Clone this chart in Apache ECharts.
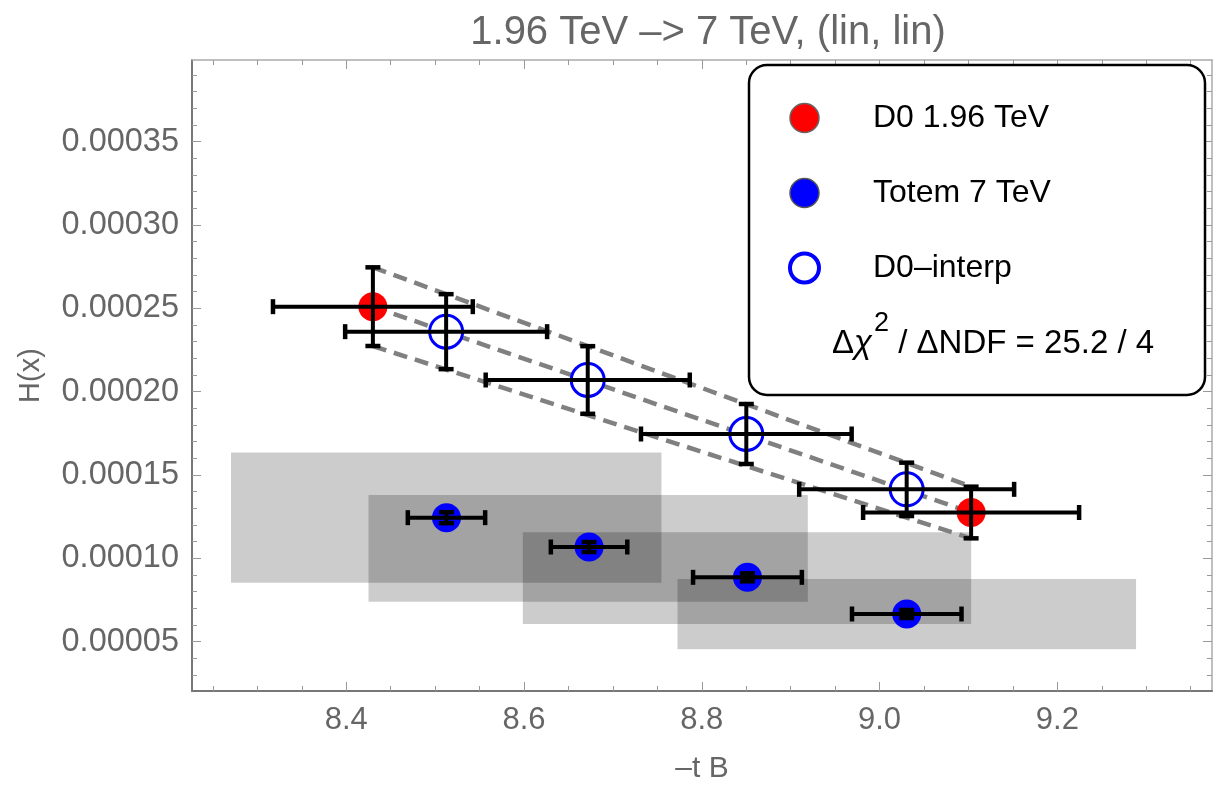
<!DOCTYPE html>
<html><head><meta charset="utf-8">
<script src="https://cdn.jsdelivr.net/npm/echarts@6/dist/echarts.min.js"></script>
<style>html,body{margin:0;padding:0;background:#fff}#c{width:1230px;height:786px}</style>
</head><body><div id="c"></div>
<script>
// ---- axis ticks ----
const xMajorTicks = [8.4, 8.6, 8.8, 9.0, 9.2];
const xMinorTicks = [8.25, 8.3, 8.35, 8.45, 8.5, 8.55, 8.65, 8.7, 8.75, 8.85, 8.9, 8.95, 9.05, 9.1, 9.15, 9.25, 9.3, 9.35];
const yMajorTicks = [0.00005, 0.0001, 0.00015, 0.0002, 0.00025, 0.0003, 0.00035];
const yMinorTicks = [0.00003, 0.00004, 0.00006, 0.00007, 0.00008, 0.00009, 0.00011, 0.00012, 0.00013, 0.00014,
  0.00016, 0.00017, 0.00018, 0.00019, 0.00021, 0.00022, 0.00023, 0.00024, 0.00026, 0.00027, 0.00028, 0.00029,
  0.00031, 0.00032, 0.00033, 0.00034, 0.00036, 0.00037, 0.00038, 0.00039];

// ---- D0 1.96 TeV ----
const d0X = [8.430, 9.103];
const d0Y = [0.000251, 0.0001275];
const d0XErr = [0.1124, 0.1215];
const d0YErr = [0.0000236, 0.0000155];

// ---- D0-interp ----
const interpX = [8.5124, 8.6717, 8.8501, 9.0305];
const interpY = [0.000236, 0.000207, 0.0001746, 0.0001414];
const interpXErr = [0.1136, 0.1148, 0.1185, 0.1209];
const interpYErr = [0.0000225, 0.0000203, 0.000018, 0.000016];

// ---- Totem 7 TeV ----
const totemX = [8.5128, 8.6732, 8.8514, 9.0306];
const totemY = [0.0001244, 0.0001068, 0.0000886, 0.0000666];
const totemXErr = [0.0435, 0.0430, 0.0612, 0.0616];
const totemYErr = [0.0000033, 0.000003, 0.0000024, 0.0000024];

// ---- Totem uncertainty boxes ----
const boxXLo = [8.2704, 8.4251, 8.5987, 8.7727];
const boxXHi = [8.7546, 8.9193, 9.1031, 9.2886];
const boxYLo = [0.0000854, 0.0000740, 0.0000606, 0.0000454];
const boxYHi = [0.0001635, 0.0001380, 0.0001156, 0.0000876];

const xMin = 8.2265, xMax = 9.374, yMin = 0.0000204, yMax = 0.000399;
const F = '"Liberation Sans", Arial, sans-serif';

const chart = echarts.init(document.getElementById('c'));

function errRender(params, api) {
  const x = api.value(0), y = api.value(1), ex = api.value(2), ey = api.value(3);
  const c = api.coord([x, y]);
  const l = api.coord([x - ex, y]), r = api.coord([x + ex, y]);
  const t = api.coord([x, y + ey]), b = api.coord([x, y - ey]);
  const cap = 7.5;
  const st = {stroke: '#000', lineWidth: 4};
  const cs = {stroke: '#000', lineWidth: 4.5};
  return {type: 'group', children: [
    {type: 'line', shape: {x1: l[0], y1: c[1], x2: r[0], y2: c[1]}, style: st},
    {type: 'line', shape: {x1: l[0], y1: c[1] - cap, x2: l[0], y2: c[1] + cap}, style: cs},
    {type: 'line', shape: {x1: r[0], y1: c[1] - cap, x2: r[0], y2: c[1] + cap}, style: cs},
    {type: 'line', shape: {x1: c[0], y1: t[1], x2: c[0], y2: b[1]}, style: st},
    {type: 'line', shape: {x1: c[0] - cap, y1: t[1], x2: c[0] + cap, y2: t[1]}, style: cs},
    {type: 'line', shape: {x1: c[0] - cap, y1: b[1], x2: c[0] + cap, y2: b[1]}, style: cs}
  ]};
}
function boxRender(params, api) {
  const p1 = api.coord([api.value(0), api.value(3)]);
  const p2 = api.coord([api.value(1), api.value(2)]);
  return {type: 'rect', shape: {x: p1[0], y: p1[1], width: p2[0] - p1[0], height: p2[1] - p1[1]},
    style: {fill: 'rgba(0,0,0,0.2)'}};
}

const zip4 = (a, b, c, d) => a.map((v, i) => [v, b[i], c[i], d[i]]);

function xAx(pos, ticks, major, extra) {
  return Object.assign({
    type: 'value', min: xMin, max: xMax, position: pos, gridIndex: 0,
    axisLine: {show: major, onZero: false, lineStyle: {color: pos === 'bottom' ? '#777' : '#aaa', width: pos === 'bottom' ? 2 : 1.5}},
    axisTick: {show: true, customValues: ticks, inside: true, length: major ? 9 : 5, lineStyle: {color: '#999', width: 1}},
    axisLabel: {show: false}, splitLine: {show: false}
  }, extra || {});
}
function yAx(pos, ticks, major, extra) {
  return Object.assign({
    type: 'value', min: yMin, max: yMax, position: pos, gridIndex: 0,
    axisLine: {show: major, onZero: false, lineStyle: {color: pos === 'left' ? '#777' : '#aaa', width: pos === 'left' ? 2 : 1.5}},
    axisTick: {show: true, customValues: ticks, inside: true, length: major ? 9 : 5, lineStyle: {color: '#999', width: 1}},
    axisLabel: {show: false}, splitLine: {show: false}
  }, extra || {});
}

const option = {
  backgroundColor: '#fff',
  animation: false,
  title: {text: '1.96 TeV –> 7 TeV, (lin, lin)', left: 703, textAlign: 'center', top: 8,
    textStyle: {fontSize: 40, fontWeight: 'normal', color: '#666', fontFamily: F}},
  grid: {left: 192, right: 18, top: 60, bottom: 95, outerBoundsMode: 'none', containLabel: false},
  xAxis: [
    xAx('bottom', xMajorTicks, true, {
      axisLabel: {show: true, customValues: xMajorTicks, formatter: v => v.toFixed(1), fontSize: 31, color: '#666', fontFamily: F, margin: 14},
      name: '–t B', nameLocation: 'middle', nameGap: 63, nameTextStyle: {fontSize: 30, color: '#666', fontFamily: F}
    }),
    xAx('bottom', xMinorTicks, false),
    xAx('top', xMajorTicks, true),
    xAx('top', xMinorTicks, false)
  ],
  yAxis: [
    yAx('left', yMajorTicks, true, {
      axisLabel: {show: true, customValues: yMajorTicks, formatter: v => v.toFixed(5), fontSize: 32.5, color: '#666', fontFamily: F, margin: 13},
      name: 'H(x)', nameLocation: 'middle', nameGap: 147, nameRotate: 90, nameTextStyle: {fontSize: 29, color: '#666', fontFamily: F}
    }),
    yAx('left', yMinorTicks, false),
    yAx('right', yMajorTicks, true),
    yAx('right', yMinorTicks, false)
  ],
  legend: {
    orient: 'vertical', left: 783, top: 95, itemWidth: 29, itemHeight: 29, itemGap: 39, z: 20,
    selectedMode: false,
    textStyle: {fontSize: 32, color: '#000', fontFamily: F, lineHeight: 36, padding: [0, 0, 0, 49]},
    data: [
      {name: 'D0 1.96 TeV', itemStyle: {color: '#ff0000', borderColor: '#666', borderWidth: 1.5}},
      {name: 'Totem 7 TeV', itemStyle: {color: '#0000ff', borderColor: '#555', borderWidth: 1.5}},
      {name: 'D0–interp', itemStyle: {color: '#fff', borderColor: '#0000ff', borderWidth: 4}}
    ]
  },
  graphic: [
    {type: 'rect', z: 15, shape: {x: 749, y: 65, width: 456, height: 330, r: 18},
      style: {fill: '#fff', stroke: '#000', lineWidth: 2.5}},
    {type: 'text', z: 30, left: 832, top: 310,
      style: {text: '{d|Δ}{c|χ}{s|2}{d| / ΔNDF = 25.2 / 4}',
        rich: {
          d: {fontSize: 33, fontFamily: F, fill: '#000', lineHeight: 50, verticalAlign: 'bottom'},
          c: {fontSize: 33, fontFamily: F, fontStyle: 'italic', fill: '#000', lineHeight: 50, verticalAlign: 'bottom'},
          s: {fontSize: 27, fontFamily: F, fill: '#000', lineHeight: 27, verticalAlign: 'top', padding: [0, 0, 0, 2]}
        }}}
  ],
  series: [
    {type: 'custom', name: 'boxes', renderItem: boxRender, z: 1, silent: true,
      encode: {x: [0, 1], y: [2, 3]},
      data: zip4(boxXLo, boxXHi, boxYLo, boxYHi)},
    {type: 'line', name: 'bandUp', symbol: 'none', z: 2, silent: true,
      lineStyle: {color: '#808080', width: 4.5, type: [14, 8]},
      data: [[d0X[0], d0Y[0] + d0YErr[0]], [d0X[1], d0Y[1] + d0YErr[1]]]},
    {type: 'line', name: 'bandMid', symbol: 'none', z: 2, silent: true,
      lineStyle: {color: '#808080', width: 4.5, type: [14, 8]},
      data: [[d0X[0], d0Y[0]], [d0X[1], d0Y[1]]]},
    {type: 'line', name: 'bandLo', symbol: 'none', z: 2, silent: true,
      lineStyle: {color: '#808080', width: 4.5, type: [14, 8]},
      data: [[d0X[0], d0Y[0] - d0YErr[0]], [d0X[1], d0Y[1] - d0YErr[1]]]},
    {type: 'scatter', name: 'D0 1.96 TeV', symbol: 'circle', symbolSize: 29, z: 3,
      itemStyle: {color: '#ff0000', opacity: 1},
      data: d0X.map((x, i) => [x, d0Y[i]])},
    {type: 'scatter', name: 'Totem 7 TeV', symbol: 'circle', symbolSize: 29, z: 3,
      itemStyle: {color: '#0000ff', opacity: 1},
      data: totemX.map((x, i) => [x, totemY[i]])},
    {type: 'scatter', name: 'D0–interp', symbol: 'circle', symbolSize: 33, z: 3,
      itemStyle: {color: '#fff', borderColor: '#0000ff', borderWidth: 3, opacity: 1},
      data: interpX.map((x, i) => [x, interpY[i]])},
    {type: 'custom', name: 'errD0', renderItem: errRender, z: 4, silent: true,
      encode: {x: 0, y: 1}, data: zip4(d0X, d0Y, d0XErr, d0YErr)},
    {type: 'custom', name: 'errInterp', renderItem: errRender, z: 4, silent: true,
      encode: {x: 0, y: 1}, data: zip4(interpX, interpY, interpXErr, interpYErr)},
    {type: 'custom', name: 'errTotem', renderItem: errRender, z: 4, silent: true,
      encode: {x: 0, y: 1}, data: zip4(totemX, totemY, totemXErr, totemYErr)}
  ]
};
chart.setOption(option);
</script></body></html>
